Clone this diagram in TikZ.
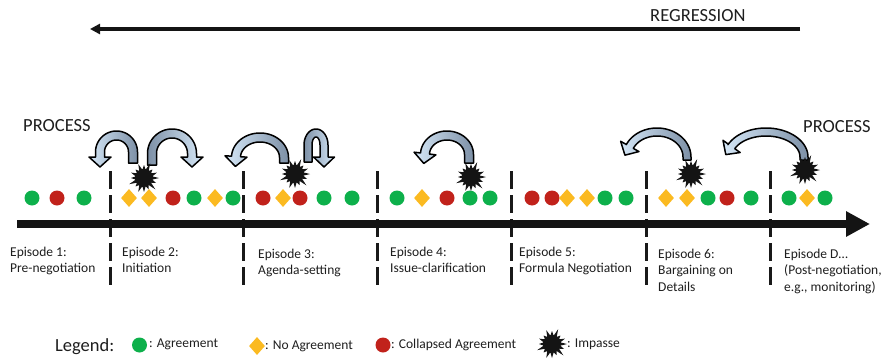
\documentclass[tikz,border=0pt]{standalone}
\usepackage{fontspec}
\setmainfont{Carlito}
\usetikzlibrary{arrows.meta,shapes.geometric}

\definecolor{agreegreen}{HTML}{0DB04B}
\definecolor{collred}{HTML}{C1221B}
\definecolor{noyellow}{HTML}{FBBA21}
\definecolor{inkgrey}{HTML}{1E1E1E}
\definecolor{arrowlight}{HTML}{D5E7F7}
\definecolor{arrowdark}{HTML}{7D90A6}

\tikzset{
  agr/.style={circle,fill=agreegreen,minimum size=15pt,inner sep=0pt},
  coll/.style={circle,fill=collred,minimum size=15pt,inner sep=0pt},
  noagr/.style={diamond,fill=noyellow,minimum width=16pt,minimum height=18pt,inner sep=0pt},
  eplabel/.style={anchor=base west,align=left,inner sep=0pt,text=inkgrey,
    font=\fontsize{13.5}{16.8}\selectfont},
  bigword/.style={anchor=base west,inner sep=0pt,text=inkgrey,
    font=\fontsize{18.5}{22}\selectfont},
  legtext/.style={anchor=base west,inner sep=0pt,text=inkgrey,
    font=\fontsize{13.5}{16}\selectfont},
  divider/.style={line width=3pt,dash pattern=on 18pt off 6pt,draw=black!90},
  curl/.style={draw=black,line width=1.5pt,line join=round},
  impasse/.pic={
    \fill[black!92] (0:15) -- (11.25:8.5) -- (22.5:13) -- (33.75:8.5) -- (45:16)
      -- (56.25:8.5) -- (67.5:12) -- (78.75:8.5) -- (90:14) -- (101.25:8.5)
      -- (112.5:15) -- (123.75:8.5) -- (135:12) -- (146.25:8.5) -- (157.5:16)
      -- (168.75:8.5) -- (180:13) -- (191.25:8.5) -- (202.5:14) -- (213.75:8.5)
      -- (225:12) -- (236.25:8.5) -- (247.5:15) -- (258.75:8.5) -- (270:13)
      -- (281.25:8.5) -- (292.5:16) -- (303.75:8.5) -- (315:12) -- (326.25:8.5)
      -- (337.5:14) -- (348.75:8.5) -- cycle;
  }
}

% Curved block arrow along an elliptical arc (y grows downwards):
% #1,#2 centre, #3,#4 radii, #5 tail angle, #6 head angle,
% #7 tail leg, #8 head leg, #9 half band width
\newcommand\curlarrow[9]{%
  \pgfmathsetmacro\cs{sign(#6-#5)}%
  \pgfmathsetmacro\ctx{#1+#3*cos(#5)}%
  \pgfmathsetmacro\cty{#2+#4*sin(#5)}%
  \pgfmathsetmacro\cfox{\ctx+#9*cos(#5)}%
  \pgfmathsetmacro\cfoy{\cty+#9*sin(#5)+#7}%
  \pgfmathsetmacro\cfix{\ctx-#9*cos(#5)}%
  \pgfmathsetmacro\cfiy{\cty-#9*sin(#5)+#7}%
  \pgfmathsetmacro\cpx{#1+#3*cos(#6)}%
  \pgfmathsetmacro\cpy{#2+#4*sin(#6)}%
  \pgfmathsetmacro\ctrx{-\cs*#3*sin(#6)}%
  \pgfmathsetmacro\ctry{\cs*#4*cos(#6)}%
  \pgfmathsetmacro\ctl{sqrt(\ctrx*\ctrx+\ctry*\ctry)}%
  \pgfmathsetmacro\ctux{\ctrx/\ctl}%
  \pgfmathsetmacro\ctuy{\ctry/\ctl}%
  \pgfmathsetmacro\cnrx{#4*cos(#6)}%
  \pgfmathsetmacro\cnry{#3*sin(#6)}%
  \pgfmathsetmacro\cnl{sqrt(\cnrx*\cnrx+\cnry*\cnry)}%
  \pgfmathsetmacro\cnux{\cnrx/\cnl}%
  \pgfmathsetmacro\cnuy{\cnry/\cnl}%
  \pgfmathsetmacro\cqx{\cpx+#8*\ctux}%
  \pgfmathsetmacro\cqy{\cpy+#8*\ctuy}%
  \pgfmathsetmacro\chw{#9+6.5}%
  \pgfmathsetmacro\cang{90*\cs}%
  \draw[curl,left color=arrowdark,right color=arrowlight,shading angle=\cang]
    (\cfix,\cfiy) -- (\cfox,\cfoy)
    -- plot[domain=#5:#6,samples=40,variable=\t] ({#1+(#3+#9)*cos(\t)},{#2+(#4+#9)*sin(\t)})
    -- ({\cqx+#9*\cnux},{\cqy+#9*\cnuy})
    -- ({\cqx+\chw*\cnux},{\cqy+\chw*\cnuy})
    -- ({\cqx+10*\ctux},{\cqy+10*\ctuy})
    -- ({\cqx-\chw*\cnux},{\cqy-\chw*\cnuy})
    -- ({\cqx-#9*\cnux},{\cqy-#9*\cnuy})
    -- plot[domain=#6:#5,samples=40,variable=\t] ({#1+(#3-#9)*cos(\t)},{#2+(#4-#9)*sin(\t)})
    -- cycle;
}

\begin{document}
\begin{tikzpicture}[x=1pt,y=-1pt]
\useasboundingbox (0,0) rectangle (889,359);

% regression arrow
\node[bigword] (regr) at (650,21) {REGRESSION};
\coordinate (rstart) at (800,29);
\coordinate (rend) at (90,29);
\draw[line width=3.5pt,draw=black!92,-{Triangle[length=10pt,width=10pt]}] (rstart) -- (rend);

% process labels
\node[bigword] (procL) at (23,131) {PROCESS};
\node[bigword] (procR) at (803,132) {PROCESS};

% episode dividers
\foreach \x [count=\i] in {110,243,377,511,646,770}{
  \coordinate (dt\i) at (\x,171);
  \coordinate (db\i) at (\x,286);
  \draw[divider] (dt\i) -- (db\i);
}

% time line
\coordinate (tstart) at (17,224);
\coordinate (tend) at (870,224);
\draw[line width=8pt,draw=black!92,-{Triangle[length=24pt,width=24pt]}] (tstart) -- (tend);

% outcomes along the time line
\foreach \x/\t [count=\i] in {32/agr,57/coll,84/agr,129/noagr,149/noagr,173/coll,194/agr,
    215/noagr,233/agr,263/coll,283/noagr,300/coll,324/agr,352/agr,397/agr,422/noagr,
    447/coll,470/agr,490/agr,532/coll,552/coll,567/noagr,587/noagr,605/agr,626/agr,
    666/noagr,687/noagr,708/agr,727/coll,751/agr,789/agr,807/noagr,825/agr}{
  \node[\t] (o\i) at (\x,198) {};
}

% episode labels (anchored at the baseline of their last line)
\node[eplabel] (ep1) at (10,272.8) {Episode 1:\\Pre-negotiation};
\node[eplabel] (ep2) at (122,272.8) {Episode 2:\\Initiation};
\node[eplabel] (ep3) at (258,274.8) {Episode 3:\\Agenda-setting};
\node[eplabel] (ep4) at (390,272.8) {Episode 4:\\Issue-clarification};
\node[eplabel] (ep5) at (519,272.8) {Episode 5:\\Formula Negotiation};
\node[eplabel] (ep6) at (658,291.6) {Episode 6:\\Bargaining on\\Details};
\node[eplabel] (epD) at (784,291.6) {Episode D…\\(Post-negotiation,\\e.g., monitoring)};

% regressions after impasses
\curlarrow{116.5}{152}{16.5}{16.5}{360}{180}{11}{5}{4.5}
\curlarrow{172}{153.5}{20}{20}{180}{360}{11.5}{3.5}{4.5}
\curlarrow{260}{157.5}{24}{20}{360}{183}{5.5}{0}{4.5}
\curlarrow{316}{145}{8}{12}{180}{360}{17}{12}{4}
\curlarrow{447}{154.5}{22}{19}{360}{186}{8.5}{1}{4.5}
\curlarrow{657}{157}{30}{25}{360}{205}{3}{0}{4}
\curlarrow{766}{157}{38}{25}{360}{205}{3}{0}{4}

% impasses
\pic at (144,178) {impasse};
\pic at (295,174) {impasse};
\pic at (471,177) {impasse};
\pic at (691,174) {impasse};
\pic at (805,170) {impasse};

% legend
\node[bigword] (leg) at (55,351) {Legend:};
\node[agr] (lga) at (139.5,345) {};
\node[legtext] (lta) at (149,347) {: Agreement};
\node[noagr] (lgn) at (257,346) {};
\node[legtext] (ltn) at (265,349) {: No Agreement};
\node[coll] (lgc) at (383,345) {};
\node[legtext] (ltc) at (391,348) {: Collapsed Agreement};
\pic at (552,344) {impasse};
\node[legtext] (lti) at (567,347) {: Impasse};
\end{tikzpicture}
\end{document}
